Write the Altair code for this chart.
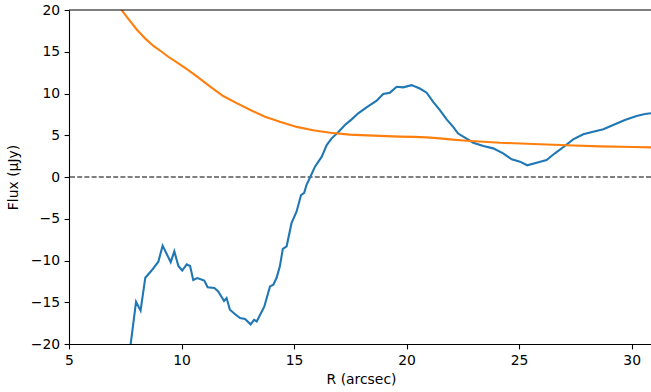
import altair as alt
import pandas as pd

# Blue series (measured profile)
blue_r = [7.66, 7.98, 8.18, 8.39, 8.67, 8.97, 9.16, 9.52, 9.68, 9.86, 10.03, 10.23, 10.38,
          10.52, 10.70, 11.01, 11.16, 11.46, 11.63, 11.89, 12.0, 12.15, 12.37, 12.6, 12.82,
          13.07, 13.22, 13.34, 13.68, 13.93, 14.08, 14.22, 14.37, 14.5, 14.67, 14.89, 15.11,
          15.31, 15.45, 15.56, 15.74, 15.93, 16.23, 16.45, 16.67, 16.96, 17.26, 17.56, 17.85,
          18.22, 18.67, 18.96, 19.26, 19.56, 19.85, 20.22, 20.59, 20.89, 21.18, 21.48, 21.78,
          22.07, 22.29, 22.52, 22.96, 23.41, 23.85, 24.29, 24.67, 25.04, 25.36, 25.78, 26.22,
          26.59, 27.03, 27.4, 27.85, 28.29, 28.74, 29.18, 29.7, 30.22, 30.59, 30.9]
blue_flux = [-21.7, -14.93, -16.0, -12.06, -11.2, -10.14, -8.22, -10.2, -8.9, -10.66, -11.2,
             -10.46, -10.66, -12.33, -12.1, -12.4, -13.2, -13.3, -13.7, -14.85, -14.5, -15.9,
             -16.4, -16.9, -17.0, -17.65, -17.1, -17.3, -15.5, -13.1, -12.9, -12.1, -10.7,
             -8.6, -8.3, -5.5, -4.16, -2.16, -1.9, -0.9, 0.12, 1.24, 2.43, 3.83, 4.63, 5.35,
             6.23, 6.9, 7.63, 8.35, 9.14, 9.94, 10.1, 10.8, 10.74, 11.0, 10.6, 10.1, 9.0, 8.0,
             6.9, 6.0, 5.2, 4.83, 4.1, 3.71, 3.43, 2.84, 2.12, 1.84, 1.4, 1.72, 2.04, 2.84,
             3.71, 4.51, 5.11, 5.43, 5.71, 6.23, 6.83, 7.31, 7.54, 7.65]

# Orange series (model profile)
orange_r = [7.0, 7.34, 7.56, 8.0, 8.38, 8.75, 9.12, 9.41, 9.86, 10.3, 10.74, 11.26, 11.85,
            12.45, 13.04, 13.71, 14.37, 15.12, 15.85, 16.6, 17.48, 18.52, 19.7, 20.3, 20.89,
            21.48, 21.93, 22.67, 24.15, 25.63, 27.11, 28.59, 30.07, 30.9]
orange_flux = [21.4, 20.0, 19.2, 17.7, 16.6, 15.7, 15.0, 14.4, 13.6, 12.8, 11.94, 10.85, 9.7,
               8.85, 8.05, 7.22, 6.62, 6.0, 5.6, 5.3, 5.08, 4.95, 4.83, 4.8, 4.75, 4.63, 4.51,
               4.35, 4.1, 3.95, 3.8, 3.67, 3.59, 3.55]

x_ticks = [5, 10, 15, 20, 25, 30]
y_ticks = [-20, -15, -10, -5, 0, 5, 10, 15, 20]

blue_df = pd.DataFrame({"r": blue_r, "flux": blue_flux})
orange_df = pd.DataFrame({"r": orange_r, "flux": orange_flux})

W, H = 582, 334
FONT = "DejaVu Sans"
FS = 13.9

xscale = alt.Scale(domain=[5, 30.86], nice=False, zero=False)
yscale = alt.Scale(domain=[-20, 20], nice=False, zero=False)

xaxis = alt.Axis(values=x_ticks, grid=False, title="R (arcsec)", format="d",
                 domainColor="black", domainWidth=1.1, tickColor="black", tickWidth=1.1,
                 tickSize=4.9, labelPadding=4.5, labelFont=FONT, labelFontSize=FS,
                 labelColor="black", titleFont=FONT, titleFontSize=FS, titleFontWeight="normal",
                 titleColor="black", titleX=292, titleY=39.3, titleBaseline="alphabetic",
                 labelFlush=False, labelOverlap=False)
yaxis = alt.Axis(values=y_ticks, grid=False, title="Flux (\u03bcJy)", format="d",
                 domainColor="black", domainWidth=1.1, tickColor="black", tickWidth=1.1,
                 tickSize=4.9, labelPadding=4.5, labelFont=FONT, labelFontSize=FS,
                 labelColor="black", titleFont=FONT, titleFontSize=FS, titleFontWeight="normal",
                 titleColor="black", titleAngle=270, titleX=-52, titleY=167,
                 titleBaseline="alphabetic", titleAlign="center",
                 labelFlush=False, labelOverlap=False)

zero = alt.Chart(pd.DataFrame({"y": [0]})).mark_rule(
    color="#555555", strokeWidth=1.4, strokeDash=[5, 2.2]
).encode(y=alt.Y("y:Q", scale=yscale, axis=yaxis))

top = alt.Chart(pd.DataFrame({"y": [20]})).mark_rule(
    color="black", strokeWidth=1.1
).encode(y=alt.Y("y:Q", scale=yscale))

blue = alt.Chart(blue_df).mark_line(color="#1f77b4", strokeWidth=2.1, clip=True).encode(
    x=alt.X("r:Q", scale=xscale, axis=xaxis),
    y=alt.Y("flux:Q", scale=yscale),
    order="r:Q",
)
orange = alt.Chart(orange_df).mark_line(color="#ff7f0e", strokeWidth=2.1, clip=True).encode(
    x=alt.X("r:Q", scale=xscale),
    y=alt.Y("flux:Q", scale=yscale),
    order="r:Q",
)

chart = alt.layer(zero, blue, orange, top).properties(
    width=W, height=H,
    padding={"left": 69, "top": 10, "right": 0, "bottom": 48},
    autosize=alt.AutoSizeParams(type="none"),
    background="white",
).configure_view(stroke=None)

chart.save("out.html", embed_options={"renderer": "svg", "actions": False})
